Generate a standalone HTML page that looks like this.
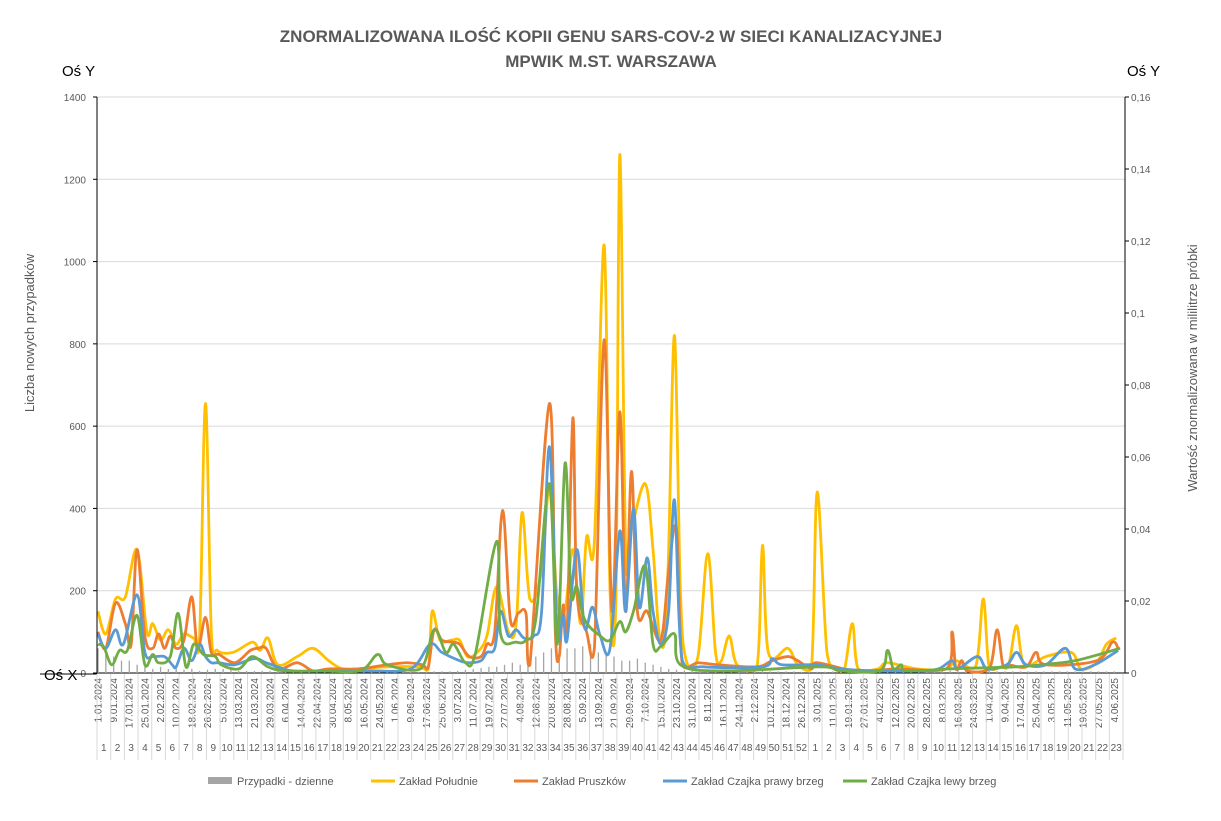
<!DOCTYPE html>
<html><head><meta charset="utf-8"><style>
body{margin:0;background:#fff;}
svg text{font-family:"Liberation Sans",sans-serif;}
</style></head><body>
<svg id="c" width="1221" height="816" xmlns="http://www.w3.org/2000/svg">
<text x="611" y="42" text-anchor="middle" font-size="17" font-weight="bold" fill="#595959">ZNORMALIZOWANA ILOŚĆ KOPII GENU SARS-COV-2 W SIECI KANALIZACYJNEJ</text>
<text x="611" y="67" text-anchor="middle" font-size="17" font-weight="bold" fill="#595959">MPWIK M.ST. WARSZAWA</text>
<text x="62" y="76" font-size="15" fill="#000">Oś Y</text>
<text x="1127" y="76" font-size="15" fill="#000">Oś Y</text>
<text x="44" y="680" font-size="15" fill="#000">Oś X</text>
<text transform="translate(34,333) rotate(-90)" text-anchor="middle" font-size="13" fill="#595959">Liczba nowych przypadków</text>
<text transform="translate(1197,368) rotate(-90)" text-anchor="middle" font-size="13" fill="#595959">Wartość znormalizowana  w mililitrze próbki</text>
<g id="grid"></g><g id="bars"></g><g id="lines"></g><g id="axes"></g><g id="xl"></g>
<g font-size="11" fill="#595959">
<rect x="208" y="777" width="24" height="7" fill="#a5a5a5"/>
<text x="237" y="785">Przypadki - dzienne</text>
<line x1="371" y1="781" x2="395" y2="781" stroke="#ffc000" stroke-width="3"/>
<text x="399" y="785">Zakład Południe</text>
<line x1="514" y1="781" x2="538" y2="781" stroke="#ed7d31" stroke-width="3"/>
<text x="542" y="785">Zakład Pruszków</text>
<line x1="663" y1="781" x2="687" y2="781" stroke="#5b9bd5" stroke-width="3"/>
<text x="691" y="785">Zakład Czajka prawy brzeg</text>
<line x1="843" y1="781" x2="867" y2="781" stroke="#70ad47" stroke-width="3"/>
<text x="871" y="785">Zakład Czajka lewy brzeg</text>
</g>
</svg>
<script>
// left-axis ticks (cases), right-axis ticks (normalized)
const leftTicks=[0,200,400,600,800,1000,1200,1400];
const rightTicks=["0","0,02","0,04","0,06","0,08","0,1","0,12","0,14","0,16"];
const rightMax=0.16;
// daily cases sampled every 4 days
const caseValues=[60,50,40,30,30,20,15,10,15,10,12,8,10,5,8,10,10,8,5,5,5,5,5,5,4,4,3,3,4,3,3,3,3,3,3,3,3,3,3,3,3,3,3,4,4,4,5,8,10,12,15,15,20,25,20,30,40,50,60,55,60,60,65,70,50,45,40,30,30,35,25,20,15,10,8,6,5,5,5,5,4,4,4,4,5,5,4,4,4,4,3,3,3,3,4,4,4,3,3,3,4,4,5,6,8,10,10,8,8,6,6,5,5,5,5,4,4,4,4,4,4,4,4,4,4,4,4,4,4,4,4];
// series: day index (from 1.01.2024) and value (left-axis-equivalent units, converted to right axis)
const sDaysY=[0,4,9,14,20,25,28,32,36,40,44,49,52,55,58,61,69,79,83,87,92,102,110,118,125,133,148,164,169,171,175,181,185,189,194,199,204,210,214,217,221,227,231,235,239,243,247,250,254,259,262,265,267,270,273,280,284,287,290,292,295,298,301,307,312,316,319,323,327,337,340,343,353,358,365,368,373,378,382,386,389,399,404,419,434,439,449,453,456,462,466,470,474,485,498,503,511,516,521];
const sValsYL=[150,95,180,185,300,100,120,80,105,70,95,85,90,655,100,55,50,75,55,85,20,40,60,30,10,10,15,15,10,150,80,80,80,40,50,90,210,100,120,390,180,250,450,180,155,300,120,330,320,1040,200,180,1260,300,350,460,300,100,80,300,820,200,30,40,290,50,30,90,20,10,310,50,60,20,10,440,50,10,10,120,10,10,25,10,10,30,15,180,15,15,20,115,20,40,50,10,25,70,85];
const sDaysO=[0,4,9,14,17,20,24,28,31,34,37,40,44,48,51,55,58,62,70,78,82,86,92,102,110,118,133,148,158,166,169,172,176,181,185,190,196,199,203,207,211,215,219,221,231,234,236,238,240,243,245,250,254,259,263,267,270,273,276,281,288,292,296,299,307,317,337,345,353,358,365,368,388,409,434,437,439,442,445,456,460,463,466,475,480,485,511,519,522];
const sValsOL=[100,60,170,120,70,300,90,60,95,60,90,60,80,185,60,135,50,45,25,55,60,60,10,25,5,10,10,20,25,20,15,105,80,75,70,40,40,70,100,395,130,145,145,20,655,100,40,165,100,620,200,100,60,810,150,635,150,490,150,150,80,250,350,20,25,20,15,30,40,30,10,25,5,10,10,100,10,30,5,10,105,20,20,15,50,20,30,75,60];
const sDaysB=[0,4,9,13,20,24,28,34,38,40,44,48,52,55,58,62,70,80,86,92,100,120,140,160,170,176,185,190,196,199,203,206,210,214,218,223,227,231,235,238,240,245,249,253,257,262,267,270,274,277,281,284,288,292,295,299,310,340,345,350,368,380,400,420,430,437,440,450,455,465,470,475,485,495,500,510,522];
const sValsBL=[95,60,105,70,190,50,40,40,20,15,60,30,70,40,25,25,20,35,25,15,5,5,5,10,70,50,30,25,30,50,60,150,90,105,85,90,150,550,100,140,80,300,110,160,90,60,345,150,400,160,280,150,70,150,420,30,15,15,35,20,20,10,5,5,10,30,10,40,10,20,50,20,20,60,10,20,55];
const sDaysG=[0,3,7,11,15,20,24,28,31,37,41,45,49,54,60,63,72,79,87,96,114,134,143,148,165,172,178,182,188,193,204,206,214,219,224,231,235,239,242,245,249,257,262,267,270,274,280,284,288,295,298,320,369,380,400,404,407,411,414,436,470,482,500,523];
const sValsGL=[70,63,20,55,55,140,20,45,25,40,145,15,70,45,40,20,10,40,15,5,5,5,45,20,10,105,50,70,25,45,320,95,75,80,130,460,70,510,195,210,130,90,80,125,100,150,260,70,65,95,20,5,15,5,5,55,10,20,5,10,15,20,30,60];
const leftMax=1400;
const toRight=v=>v*rightMax/leftMax;
const series=[
 {name:'poludnie',color:'#ffc000',d:sDaysY,v:sValsYL.map(toRight)},
 {name:'pruszkow',color:'#ed7d31',d:sDaysO,v:sValsOL.map(toRight)},
 {name:'czajka-prawy',color:'#5b9bd5',d:sDaysB,v:sValsBL.map(toRight)},
 {name:'czajka-lewy',color:'#70ad47',d:sDaysG,v:sValsGL.map(toRight)}];
const NS='http://www.w3.org/2000/svg';
const X0=97,X1=1125,Y0=673,Y1=97,NDAYS=526;
const xS=d=>X0+(d+0.5)*(X1-X0)/NDAYS;
const yL=v=>Y0-v/leftMax*(Y0-Y1);
const yR=v=>Y0-v/rightMax*(Y0-Y1);
function mk(tag,attrs,parent){const e=document.createElementNS(NS,tag);for(const k in attrs)e.setAttribute(k,attrs[k]);parent.appendChild(e);return e;}
const grid=document.getElementById('grid'),axes=document.getElementById('axes'),xl=document.getElementById('xl');
leftTicks.forEach(t=>{
 const l=mk('line',{x1:X0,x2:X1,y1:yL(t),y2:yL(t),stroke:t?'#d9d9d9':'#000','stroke-width':1},grid);
 
 
 const tx=mk('text',{x:86,y:yL(t)+4,'text-anchor':'end','font-size':10,fill:'#595959'},axes);tx.textContent=t;
 
 
 mk('line',{x1:X0-4,x2:X0,y1:yL(t),y2:yL(t),stroke:'#000'},axes);
});
rightTicks.forEach((t,i)=>{
 const y=yR(i*0.02);
 const tx=mk('text',{x:1131,y:y+4,'font-size':10,fill:'#595959'},axes);tx.textContent=t;
 
 
 mk('line',{x1:X1,x2:X1+4,y1:y,y2:y,stroke:'#000'},axes);
});
mk('line',{x1:X0,x2:X0,y1:Y1,y2:Y0,stroke:'#000'},axes);
mk('line',{x1:X1,x2:X1,y1:Y1,y2:Y0,stroke:'#000'},axes);
mk('line',{x1:40,x2:X0,y1:Y0+1,y2:Y0+1,stroke:'#000'},axes);
const bars=document.getElementById('bars');
caseValues.forEach((v,i)=>{
 const r=mk('rect',{x:xS(i*4)-0.6,y:yL(v),width:1.3,height:Y0-yL(v),fill:'#a5a5a5'},bars);
 
 
});
const lines=document.getElementById('lines');
series.forEach(s=>{
 const p=s.d.map((d,i)=>[xS(d),yR(s.v[i])]);
 let path='M'+p[0][0]+','+p[0][1];
 for(let i=0;i<p.length-1;i++){
  const a=p[i-1]||p[i],b=p[i],c=p[i+1],e=p[i+2]||c;
  const t=0.17;
  let c1y=b[1]+(c[1]-a[1])*t,c2y=c[1]-(e[1]-b[1])*t;
  c1y=Math.min(c1y,Y0);c2y=Math.min(c2y,Y0);
  path+=` C${b[0]+(c[0]-a[0])*t},${c1y} ${c[0]-(e[0]-b[0])*t},${c2y} ${c[0]},${c[1]}`;
 }
 const el=mk('path',{d:path,fill:'none',stroke:s.color,'stroke-width':2.8,'stroke-linejoin':'round'},lines);
 
 
});
const start=new Date(2024,0,1);
for(let d=0;d<=520;d+=8){
 const dt=new Date(start.getTime()+d*86400000+3600000*12);
 const s=dt.getDate()+'.'+String(dt.getMonth()+1).padStart(2,'0')+'.'+dt.getFullYear();
 const x=xS(d);
 const tx=mk('text',{transform:`translate(${x+3.5},678) rotate(-90)`,'text-anchor':'end','font-size':10,fill:'#595959'},xl);
 tx.textContent=s;
 
 
}
for(let w=0;w<=75;w++){
 const x=X0+w*7*(X1-X0)/NDAYS;
 mk('line',{x1:x,x2:x,y1:Y0+1,y2:760,stroke:'#d9d9d9'},xl);
 if(w<75){
  const n=w<52?w+1:w-51;
  const tx=mk('text',{x:x+3.5*(X1-X0)/NDAYS,y:751,'text-anchor':'middle','font-size':10,fill:'#595959'},xl);
  tx.textContent=n;
  
  
 }
}
</script>
</body></html>
